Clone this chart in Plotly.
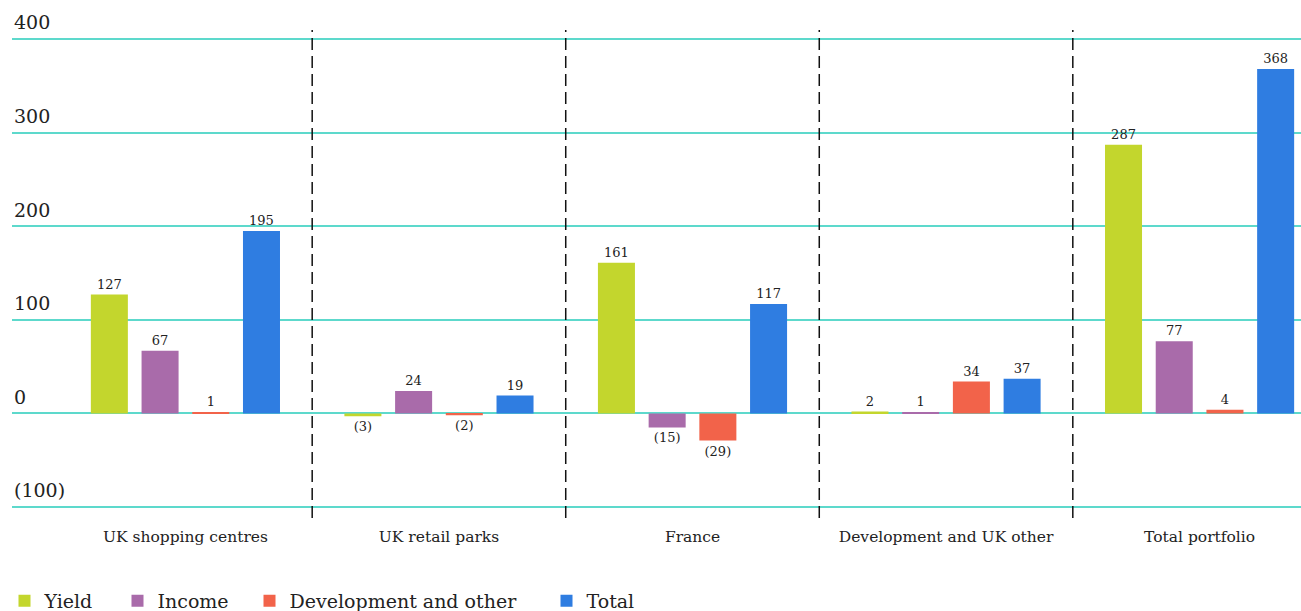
import plotly.graph_objects as go

categories = ["UK shopping centres", "UK retail parks", "France", "Development and UK other", "Total portfolio"]
yield_vals = [127, -3, 161, 2, 287]
income_vals = [67, 24, -15, 1, 77]
dev_vals = [1, -2, -29, 34, 4]
total_vals = [195, 19, 117, 37, 368]
series_names = ["Yield", "Income", "Development and other", "Total"]
colors = ["#c3d62d", "#a96baa", "#f2634a", "#2f7de1"]
tick_vals = [-100, 0, 100, 200, 300, 400]
tick_text = ["(100)", "0", "100", "200", "300", "400"]
separators = [0.5, 1.5, 2.5, 3.5]
legend_x_px = [4.5, 117.5, 249.5, 546.5]

FONT = "Georgia, 'DejaVu Serif', serif"
W, H = 1301, 611
T, B = 37, 102
PH = H - T - B

def fmt(v):
    return f"({abs(v)})" if v < 0 else f"{v}"

legend_ids = ["legend", "legend2", "legend3", "legend4"]

fig = go.Figure()
for name, vals, col, lid in zip(series_names, [yield_vals, income_vals, dev_vals, total_vals], colors, legend_ids):
    fig.add_trace(go.Bar(
        x=list(range(len(categories))), y=vals, name=name,
        marker=dict(color=col, line=dict(width=0)),
        text=[fmt(v) for v in vals], textposition="outside",
        textfont=dict(family=FONT, size=13, color="#222"),
        cliponaxis=False, legend=lid,
    ))

for s in separators:
    fig.add_shape(type="line", xref="x", yref="paper", x0=s, x1=s,
                  y0=(H - B - 518) / PH, y1=(H - B - 30) / PH,
                  line=dict(color="#111", width=1.5, dash="12px,6px"))

legend_layout = {}
for lid, px in zip(legend_ids, legend_x_px):
    legend_layout[lid] = dict(
        orientation="h", xref="container", yref="container",
        x=px / W, xanchor="left", y=(H - 601) / H, yanchor="middle",
        font=dict(family=FONT, size=19, color="#222"), bgcolor="rgba(0,0,0,0)",
    )

fig.update_layout(
    width=W, height=H,
    margin=dict(l=12, r=0, t=T, b=B),
    plot_bgcolor="white", paper_bgcolor="white",
    barmode="group", bargap=0.2, bargroupgap=0.27,
    font=dict(family=FONT, color="#222"),
    showlegend=True,
    xaxis=dict(range=[-0.684, 4.40], tickvals=list(range(len(categories))), ticktext=categories,
               showgrid=False, zeroline=False, showline=False, ticks="", automargin=False,
               ticklabelstandoff=16,
               tickfont=dict(family=FONT, size=15.5, color="#222")),
    yaxis=dict(range=[-102.137, 402.137], tickvals=tick_vals, ticktext=tick_text,
               showgrid=True, gridcolor="#5dd9cc", gridwidth=1.5, zeroline=False,
               showline=False, ticks="", ticklabelposition="inside top", automargin=False,
               ticklabeloverflow="allow",
               ticklabelshift=-3, ticklabelstandoff=-1,
               tickfont=dict(family=FONT, size=19, color="#222")),
    **legend_layout,
)

fig.write_html("out.html")
